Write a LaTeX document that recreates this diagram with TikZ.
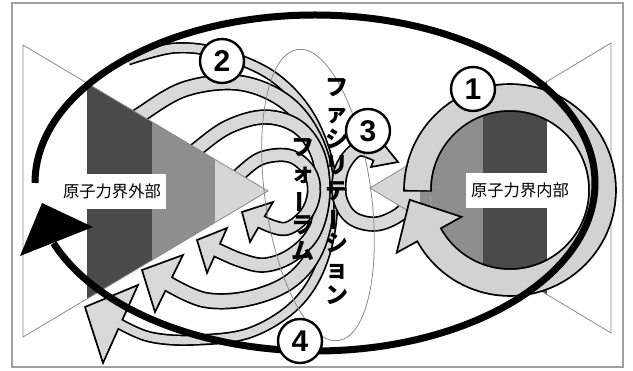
\documentclass[tikz,border=0pt]{standalone}
\usepackage{fontspec}
\usepackage{graphicx}
\setmainfont{Liberation Sans}
\newfontfamily\cjk{Noto Sans CJK JP}
\definecolor{bandgray}{HTML}{D8D8D8}
\definecolor{ringgray}{HTML}{D2D2D2}
\definecolor{darkband}{HTML}{4A4A4A}
\definecolor{midband}{HTML}{8E8E8E}
\definecolor{lightband}{HTML}{D6D6D6}
\definecolor{edgegray}{HTML}{8A8A8A}
\definecolor{framegray}{HTML}{A0A0A0}
\tikzset{
  outl/.style={line width=#1+3.4, black, line cap=butt, line join=round},
  fillband/.style={line width=#1, bandgray, line cap=butt, line join=round},
  headst/.style={fill=bandgray, draw=black, line width=1.7, line join=miter},
  numc/.style={circle, draw=black, line width=2.4, fill=white, minimum size=44, inner sep=0, font=\fontsize{30}{30}\selectfont\bfseries},
  labelbox/.style={fill=white, inner xsep=5, inner ysep=0, minimum height=35, font=\cjk\fontsize{16.3}{18}\selectfont},
  vtext/.style={align=center, inner sep=0, font=\cjk\bfseries\fontsize{23}{26}\selectfont},
  thinedge/.style={edgegray, line width=0.8},
}
\newcommand\loopband[3]{%
  \draw[outl=#1] plot[smooth, tension=0.6] coordinates {#2};
  \draw[headst] #3 -- cycle;
  \draw[fillband=#1] plot[smooth, tension=0.6] coordinates {#2};
}
\newcommand\fcolA{フ\\ァ\\シ\\リ\\テ\\\rotatebox[origin=c]{90}{ー}\\シ\\ョ\\ン}
\newcommand\fcolB{フ\\ォ\\\rotatebox[origin=c]{90}{ー}\\ラ\\ム}
\begin{document}
\begin{tikzpicture}[x=1pt,y=-1pt]
\useasboundingbox (0,0) rectangle (633,371);
\fill[white] (0,0) rectangle (633,371);
\draw[framegray, line width=1.2] (12,3) rectangle (623,367);

% loops (2)
\loopband{8}{(128,60) (175,48) (222,54) (275,78) (313,122) (332,185) (326,250) (300,300) (252,332) (195,340) (150,337) (118,323)}{(85,307) -- (138,285) -- (103,363)}
\loopband{13}{(133,121) (140,115) (185,89) (240,83) (287,103) (316,142) (327,192) (318,245) (292,280) (250,298) (205,300) (167,283)}{(142,270) -- (183,255) -- (155,312)}
\loopband{12}{(190,156) (197,149) (228,127) (265,117) (298,127) (318,155) (323,195) (314,232) (292,255) (265,265) (240,260) (215,249)}{(197,240) -- (227,228) -- (207,273)}
\loopband{11}{(234,181) (241,173) (262,158) (290,156) (309,171) (314,192) (306,214) (285,229) (259.5,221)}{(242,212) -- (273,202) -- (250,242)}
% loop (3)
\loopband{12}{(412,198) (400,214) (376,224) (352,218) (340,199) (340,175) (348,158) (360,149) (378,155)}{(398,162) -- (381,141) -- (371,167)}

% left triangle
\fill[white] (23,45) -- (268,191) -- (23,337) -- cycle;
\begin{scope}
  \clip (23,45) -- (268,191) -- (23,337) -- cycle;
  \fill[darkband] (87,0) rectangle (152,371);
  \fill[midband] (152,0) rectangle (215,371);
  \fill[lightband] (215,0) rectangle (270,371);
\end{scope}
\draw[thinedge] (23,45) -- (268,191) -- (23,337) -- cycle;

% right triangle
\fill[white] (611,43) -- (370,188) -- (611,333) -- cycle;
\begin{scope}
  \clip (611,43) -- (370,188) -- (611,333) -- cycle;
  \fill[lightband] (368,0) rectangle (420,371);
  \fill[midband] (420,0) rectangle (483,371);
  \fill[darkband] (483,0) rectangle (547,371);
\end{scope}
\draw[thinedge] (611,43) -- (370,188) -- (611,333) -- cycle;

% ring (1)
\fill[white] (510,190) circle[radius=80];
\begin{scope}
  \clip (510,190) circle[radius=80];
  \fill[midband] (420,100) rectangle (483,280);
  \fill[darkband] (483,100) rectangle (547,280);
\end{scope}
\draw[line width=28.6, black] (510,190) ++(179:92.5) arc[start angle=179, end angle=511, radius=92.5];
\draw[headst, fill=ringgray] (409.7,199.8) -- (396.7,252.7) -- (461.5,216.9) -- cycle;
\draw[line width=25, ringgray] (510,190) ++(180:92.5) arc[start angle=180, end angle=512, radius=92.5];

% forum ellipse
\draw[thinedge, rotate around={8:(318,195)}] (318,195) ellipse[x radius=53, y radius=147];

% forum text
\node[vtext] (forumA) at (337,192) {\fcolA};
\node[vtext] (forumB) at (303,200) {\fcolB};

% big black cycle arrow
\draw[line width=7, black, line cap=butt] (315,183) ++(180:280 and 168) arc[start angle=180, end angle=519, x radius=280, y radius=168];
\fill[black] (42,203) -- (20,256) -- (93,227) -- cycle;

% numbers
\node[numc] (n1) at (473,89) {1};
\node[numc] (n2) at (222,61) {2};
\node[numc] (n3) at (368,131) {3};
\node[numc] (n4) at (300,341) {4};

% labels
\node[labelbox] (outside) at (112,191.5) {原子力界外部};
\node[labelbox] (inside) at (520,190.5) {原子力界内部};
\end{tikzpicture}
\end{document}
